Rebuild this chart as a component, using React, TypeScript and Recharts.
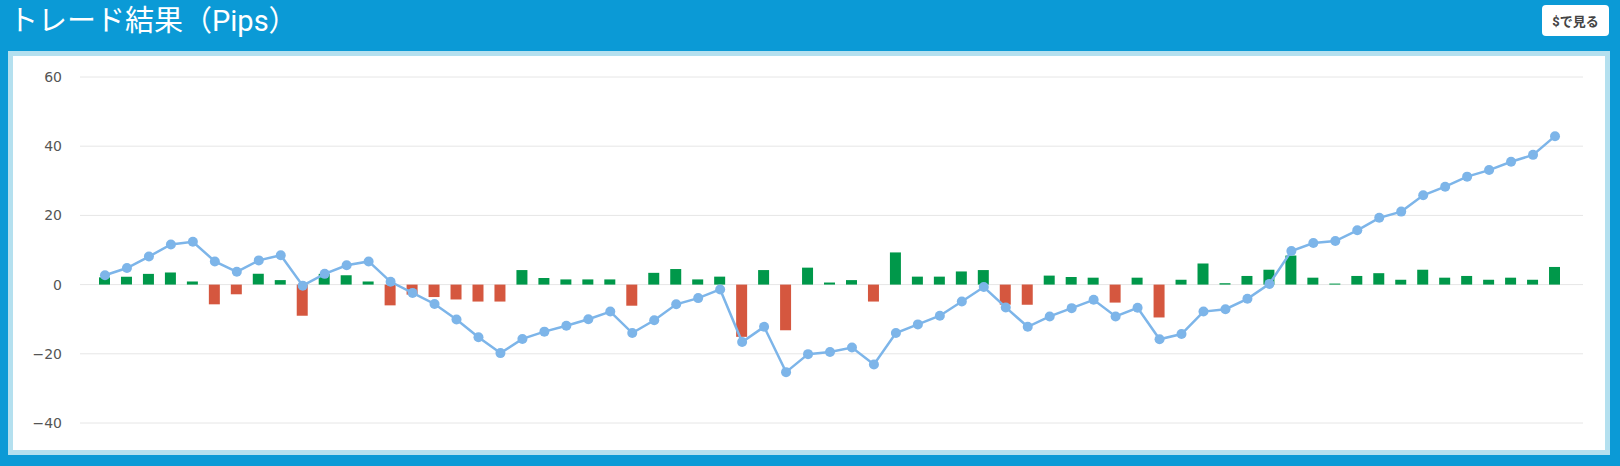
import { Bar, CartesianGrid, Cell, ComposedChart, Line, XAxis, YAxis } from "recharts";

// 1トレードごとの結果（pips）
const pips = [
  2.1, 2.3, 3.1, 3.5, 0.9, -5.7, -2.8, 3.1, 1.3, -9.0,
  3.1, 2.7, 0.9, -6.0, -2.9, -3.6, -4.3, -4.9, -4.9, 4.2,
  1.9, 1.5, 1.5, 1.5, -6.1, 3.4, 4.5, 1.5, 2.3, -15.1,
  4.2, -13.2, 4.9, 0.6, 1.3, -4.9, 9.3, 2.3, 2.3, 3.8,
  4.2, -5.8, -5.8, 2.6, 2.2, 2.0, -5.2, 2.0, -9.5, 1.4,
  6.1, 0.4, 2.5, 4.3, 8.4, 2.0, 0.3, 2.5, 3.3, 1.4,
  4.3, 2.0, 2.5, 1.4, 2.0, 1.4, 5.1,
];

// 累計（pips）
const total = [
  2.7, 4.8, 8.1, 11.6, 12.4, 6.7, 3.7, 7.0, 8.5, -0.3,
  3.1, 5.6, 6.7, 0.8, -2.4, -5.6, -10.1, -15.2, -19.8, -15.7,
  -13.6, -11.9, -10.0, -7.8, -14.0, -10.3, -5.7, -3.9, -1.4, -16.6,
  -12.2, -25.3, -20.1, -19.5, -18.2, -23.1, -14.0, -11.5, -9.0, -4.9,
  -0.7, -6.6, -12.2, -9.2, -6.8, -4.4, -9.2, -6.7, -15.8, -14.3,
  -7.8, -7.1, -4.1, 0.2, 9.7, 12.0, 12.6, 15.7, 19.3, 21.1,
  25.8, 28.3, 31.2, 33.1, 35.5, 37.5, 42.9,
];

const trades = pips.map((_, i) => `#${i + 1}`);
const yTicks = [-40, -20, 0, 20, 40, 60];

const data = trades.map((t, i) => ({ trade: t, pips: pips[i], total: total[i] }));

const BLUE = "#0b9ad6";
const GREEN = "#00984a";
const RED = "#d5573f";
const LINE = "#7db5e9";

export default function App() {
  return (
    <div
      style={{
        position: "absolute",
        left: 0,
        top: 0,
        width: 1620,
        height: 466,
        background: BLUE,
        overflow: "hidden",
        fontFamily: "Roboto, 'Noto Sans CJK JP', sans-serif",
      }}
    >
      <div
        style={{
          position: "absolute",
          left: 9,
          top: 4,
          fontSize: 29,
          lineHeight: "34px",
          color: "#fff",
          whiteSpace: "nowrap",
        }}
      >
        トレード結果（Pips）
      </div>
      <div
        style={{
          position: "absolute",
          left: 1542,
          top: 5,
          width: 67,
          height: 31,
          background: "#fff",
          borderRadius: 4,
          display: "flex",
          alignItems: "center",
          justifyContent: "center",
          fontSize: 13,
          fontWeight: 700,
          color: "#444",
        }}
      >
        $で見る
      </div>
      <div
        style={{
          position: "absolute",
          left: 8,
          top: 51,
          width: 1592,
          height: 394,
          border: "5px solid #b4e0ef",
          background: "#fff",
        }}
      />
      <div style={{ position: "absolute", left: 0, top: 0 }}>
        <ComposedChart
          width={1620}
          height={466}
          data={data}
          margin={{ top: 77, right: 37, bottom: 43, left: 0 }}
        >
          <CartesianGrid vertical={false} stroke="#e6e6e6" />
          <XAxis dataKey="trade" hide padding={{ left: 14, right: 17 }} />
          <YAxis
            width={80}
            domain={[-40, 60]}
            ticks={yTicks}
            interval={0}
            tickLine={false}
            axisLine={false}
            tickSize={6}
            tickMargin={12}
            tick={{ fill: "#555", fontSize: 14, fontFamily: "'DejaVu Sans', sans-serif" }}
            tickFormatter={(v) => String(v).replace("-", "\u2212")}
          />
          <Line
            type="linear"
            dataKey="total"
            stroke={LINE}
            strokeWidth={2.5}
            dot={{ r: 5, fill: LINE, stroke: LINE, strokeWidth: 0 }}
            isAnimationActive={false}
          />
          <Bar dataKey="pips" barSize={11} isAnimationActive={false}>
            {data.map((d, i) => (
              <Cell key={i} fill={d.pips >= 0 ? GREEN : RED} />
            ))}
          </Bar>
        </ComposedChart>
      </div>
    </div>
  );
}
